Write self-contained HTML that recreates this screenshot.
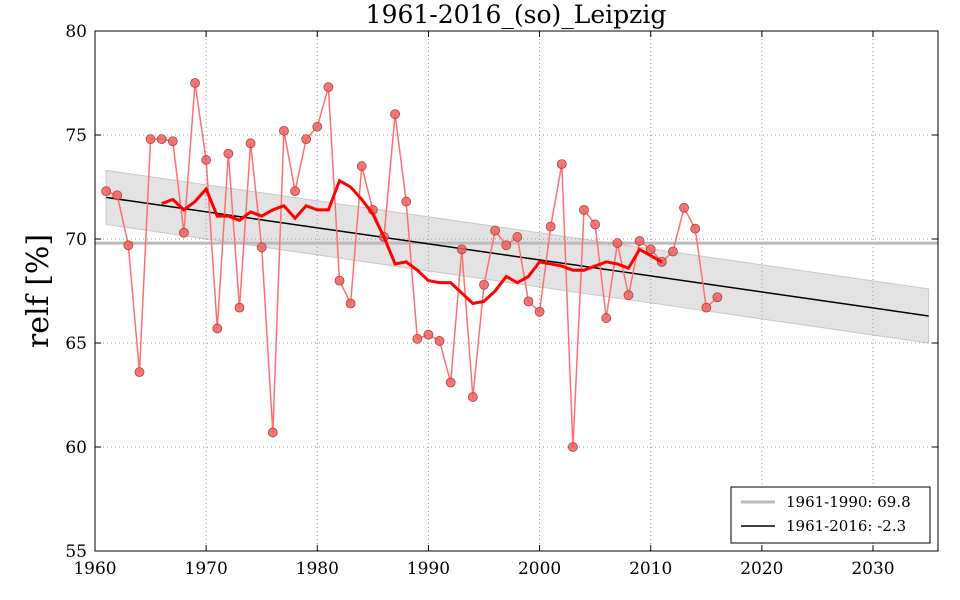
<!DOCTYPE html>
<html><head><meta charset="utf-8"><style>
body{margin:0;background:#fff;}
svg{display:block;font-family:"DejaVu Serif","Liberation Serif",serif;}
</style></head><body>
<svg id="s" width="960" height="600" xmlns="http://www.w3.org/2000/svg"></svg>
<script>
const X=y=>95+(y-1960)*(778/70);
const Y=v=>31+(80-v)*20.8;
const d=[72.3,72.1,69.7,63.6,74.8,74.8,74.7,70.3,77.5,73.8,65.7,74.1,66.7,74.6,69.6,60.7,75.2,72.3,74.8,75.4,77.3,68.0,66.9,73.5,71.4,70.1,76.0,71.8,65.2,65.4,65.1,63.1,69.5,62.4,67.8,70.4,69.7,70.1,67.0,66.5,70.6,73.6,60.0,71.4,70.7,66.2,69.8,67.3,69.9,69.5,68.9,69.4,71.5,70.5,66.7,67.2];
const m=[71.7,71.9,71.4,71.8,72.4,71.1,71.1,70.9,71.3,71.1,71.4,71.6,71.0,71.6,71.4,71.4,72.8,72.5,71.9,71.2,70.1,68.8,68.9,68.5,68.0,67.9,67.9,67.4,66.9,67.0,67.5,68.2,67.9,68.2,68.9,68.8,68.7,68.5,68.5,68.7,68.9,68.8,68.6,69.5,69.2,68.9];
let s='';
// band
s+=`<polygon points="${X(1961)},${Y(73.3)} ${X(2035)},${Y(67.6)} ${X(2035)},${Y(65.0)} ${X(1961)},${Y(70.7)}" fill="#e3e3e3" stroke="#c8c8c8" stroke-width="1"/>`;
// grid
for(let yr=1970;yr<=2030;yr+=10)s+=`<line x1="${X(yr)}" y1="31" x2="${X(yr)}" y2="551" stroke="#999" stroke-dasharray="1,3"/>`;
for(let v=60;v<=75;v+=5)s+=`<line x1="95" y1="${Y(v)}" x2="938" y2="${Y(v)}" stroke="#999" stroke-dasharray="1,3"/>`;
s+=`<line x1="95" y1="${Y(69.8)}" x2="938" y2="${Y(69.8)}" stroke="#bbb" stroke-width="3"/>`;
s+=`<line x1="${X(1961)}" y1="${Y(72.0)}" x2="${X(2035)}" y2="${Y(66.3)}" stroke="#000" stroke-width="1.5"/>`;
s+=`<polyline fill="none" stroke="#ff7070" stroke-width="1.5" points="${d.map((v,i)=>X(1961+i)+','+Y(v)).join(' ')}"/>`;
s+=d.map((v,i)=>`<circle cx="${X(1961+i)}" cy="${Y(v)}" r="4.5" fill="#f06060" stroke="#b04040" stroke-width="0.8" fill-opacity="0.85"/>`).join('');
s+=`<polyline fill="none" stroke="#f00" stroke-width="3" points="${m.map((v,i)=>X(1966+i)+','+Y(v)).join(' ')}"/>`;
s+=`<rect x="95" y="31" width="843" height="520" fill="none" stroke="#000" stroke-width="1"/>`;
for(let yr=1960;yr<=2030;yr+=10){s+=`<line x1="${X(yr)}" y1="551" x2="${X(yr)}" y2="545" stroke="#000"/><line x1="${X(yr)}" y1="31" x2="${X(yr)}" y2="37" stroke="#000"/><text x="${X(yr)}" y="574" font-size="17" text-anchor="middle">${yr}</text>`;}
for(let v=55;v<=80;v+=5){s+=`<line x1="95" y1="${Y(v)}" x2="101" y2="${Y(v)}" stroke="#000"/><line x1="938" y1="${Y(v)}" x2="932" y2="${Y(v)}" stroke="#000"/><text x="87" y="${Y(v)+6}" font-size="17" text-anchor="end">${v}</text>`;}
s+=`<text x="516" y="23" font-size="25" text-anchor="middle">1961-2016_(so)_Leipzig</text>`;
s+=`<text transform="translate(48,291) rotate(-90)" font-size="30" text-anchor="middle">relf [%]</text>`;
s+=`<rect x="731" y="487" width="199" height="56" fill="#fff" stroke="#000"/>`;
s+=`<line x1="741" y1="502" x2="775" y2="502" stroke="#bbb" stroke-width="3"/><text x="786" y="507" font-size="15">1961-1990: 69.8</text>`;
s+=`<line x1="741" y1="526" x2="775" y2="526" stroke="#000" stroke-width="1.5"/><text x="786" y="531" font-size="15">1961-2016: -2.3</text>`;
document.getElementById('s').innerHTML=s;
</script>
</body></html>
